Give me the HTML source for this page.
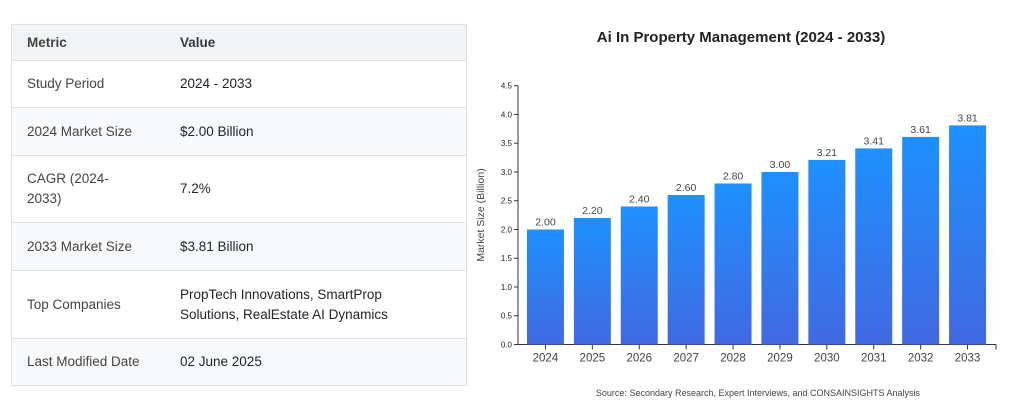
<!DOCTYPE html>
<html><head><meta charset="utf-8"><style>
body{margin:0;width:1024px;height:415px;background:#fff;font-family:"Liberation Sans",sans-serif;position:relative;overflow:hidden}
table{position:absolute;left:11px;top:24px;width:456px;border-collapse:collapse;border:1px solid #dee2e6;font-size:13.5px;color:#212529}
td,th{text-align:left;padding:0 0 0 15px;border-top:1px solid #dee2e6;vertical-align:middle;line-height:20px}
th{background:#f2f3f5;font-weight:bold;color:#343a40;height:35px}
td:first-child,th:first-child{width:138px;color:#444}
tr.s td{background:#f8f9fa}
</style></head><body>
<table>
<tr><th>Metric</th><th>Value</th></tr>
<tr><td style="height:46px">Study Period</td><td>2024 - 2033</td></tr>
<tr class="s"><td style="height:47px">2024 Market Size</td><td>$2.00 Billion</td></tr>
<tr><td style="height:66px">CAGR (2024-<br>2033)</td><td>7.2%</td></tr>
<tr class="s"><td style="height:47px">2033 Market Size</td><td>$3.81 Billion</td></tr>
<tr><td style="height:67px">Top Companies</td><td>PropTech Innovations, SmartProp<br>Solutions, RealEstate AI Dynamics</td></tr>
<tr class="s"><td style="height:46px">Last Modified Date</td><td>02 June 2025</td></tr>
</table>
<svg id="c" width="1024" height="415" style="position:absolute;left:0;top:0">
<defs><linearGradient id="g" x1="0" y1="0" x2="0" y2="1"><stop offset="0" stop-color="#1e90ff"/><stop offset="1" stop-color="#4169e1"/></linearGradient></defs>
<text x="741" y="42" text-anchor="middle" font-size="15" font-weight="bold" fill="#222">Ai In Property Management (2024 - 2033)</text>
<text x="758" y="396" text-anchor="middle" font-size="9" fill="#444">Source: Secondary Research, Expert Interviews, and CONSAINSIGHTS Analysis</text>
<text transform="translate(484,215) rotate(-90)" text-anchor="middle" font-size="10.5" fill="#444">Market Size (Billion)</text>
</svg>
<script>
const categories=["2024","2025","2026","2027","2028","2029","2030","2031","2032","2033"];
const values=[2.00,2.20,2.40,2.60,2.80,3.00,3.21,3.41,3.61,3.81];
const labels=["2.00","2.20","2.40","2.60","2.80","3.00","3.21","3.41","3.61","3.81"];
const yTicks=[0,0.5,1,1.5,2,2.5,3,3.5,4,4.5];
const svg=document.getElementById('c');const NS='http://www.w3.org/2000/svg';
const y0=344.5,yTop=85.7,yMax=4.5,axL=518,axR=996,bx0=522,band=46.9,bw=37;
const y=v=>y0-(v/yMax)*(y0-yTop);
const x=i=>bx0+band*i+(band-bw)/2;
function mk(t,a){const e=document.createElementNS(NS,t);for(const k in a)e.setAttribute(k,a[k]);svg.appendChild(e);return e;}
const ya=mk('line',{x1:axL,x2:axL,y1:yTop,y2:y0,stroke:'#333'});


const xa=mk('line',{x1:axL,x2:axR,y1:y0,y2:y0,stroke:'#333'});


mk('line',{x1:axR,x2:axR,y1:y0,y2:y0+5,stroke:'#333'});
yTicks.forEach(t=>{mk('line',{x1:axL-4,x2:axL,y1:y(t),y2:y(t),stroke:'#333'});
const tx=mk('text',{x:axL-6,y:y(t)+3,'text-anchor':'end','font-size':8,fill:'#222'});tx.textContent=t.toFixed(1);

});
categories.forEach((c,i)=>{const v=values[i];
const r=mk('rect',{x:x(i),y:y(v),width:bw,height:y0-y(v),fill:'url(#g)'});


const cx=x(i)+bw/2;
mk('line',{x1:cx,x2:cx,y1:y0,y2:y0+5,stroke:'#333'});
const l=mk('text',{x:cx,y:y(v)-4,'text-anchor':'middle','font-size':10.5,fill:'#444'});l.textContent=labels[i];


const t=mk('text',{x:cx,y:y0+17,'text-anchor':'middle','font-size':11.5,fill:'#444'});t.textContent=c;

});
</script>
</body></html>
